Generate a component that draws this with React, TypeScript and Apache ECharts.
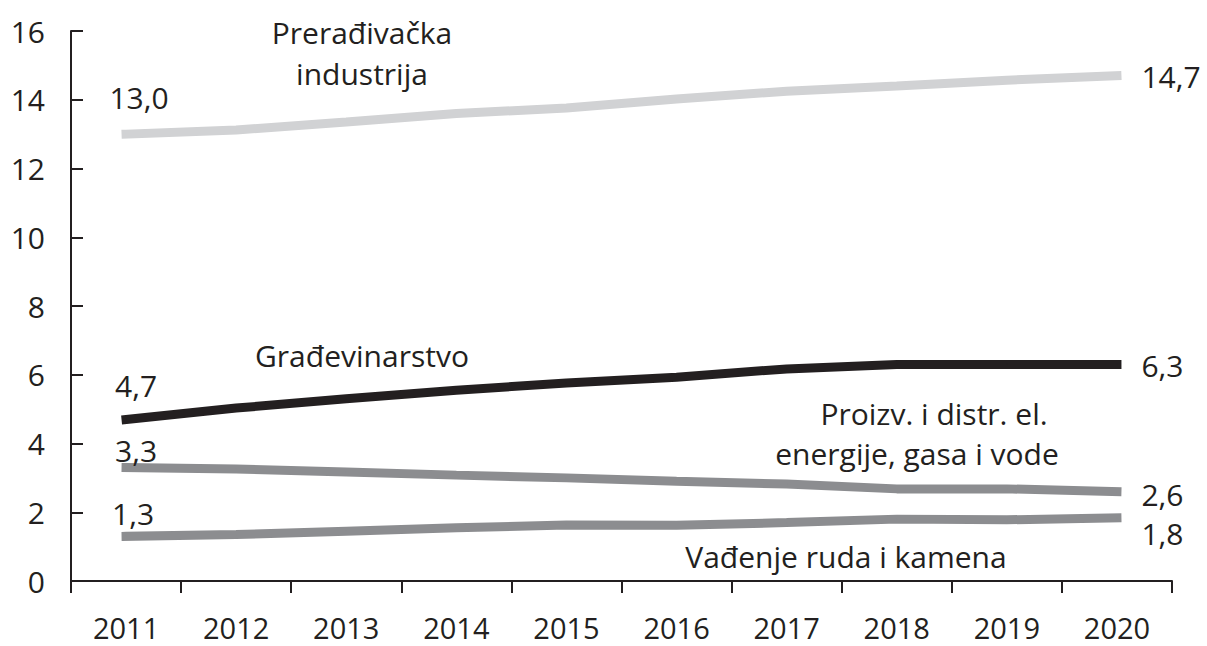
import React, { useEffect, useRef } from "react";
import * as echarts from "echarts";

const years = ["2011", "2012", "2013", "2014", "2015", "2016", "2017", "2018", "2019", "2020"];
const preradjivacka = [13.0, 13.12, 13.35, 13.6, 13.76, 14.02, 14.25, 14.4, 14.57, 14.7];
const gradjevinarstvo = [4.7, 5.03, 5.3, 5.55, 5.76, 5.93, 6.17, 6.3, 6.3, 6.3];
const energija = [3.3, 3.26, 3.17, 3.08, 3.0, 2.9, 2.82, 2.68, 2.68, 2.6];
const vadjenje = [1.3, 1.35, 1.45, 1.55, 1.63, 1.62, 1.7, 1.8, 1.78, 1.84];

const FONT = "'Open Sans'";
const TXT = "#231f20";

function fmt(v: number) {
  return v.toFixed(1).replace(".", ",");
}

function makeData(values: number[], first: [number, number], last: [number, number]) {
  const n = values.length;
  return values.map((v, i) => {
    if (i === 0) {
      return {
        value: v,
        label: { show: true, position: "inside", offset: first },
      };
    }
    if (i === n - 1) {
      return {
        value: v,
        label: { show: true, position: "right", distance: 24, offset: last },
      };
    }
    return v;
  });
}

function lineSeries(name: string, values: number[], color: string, first: [number, number], last: [number, number]) {
  return {
    name,
    type: "line",
    data: makeData(values, first, last),
    symbol: "circle",
    symbolSize: 1,
    showSymbol: true,
    itemStyle: { color },
    lineStyle: { color, width: 9, cap: "square" },
    label: {
      show: false,
      formatter: (p: any) => fmt(p.value),
      color: TXT,
      fontFamily: FONT,
      fontSize: 30,
    },
    emphasis: { disabled: true },
  };
}

export default function App() {
  const ref = useRef<HTMLDivElement>(null);
  useEffect(() => {
    if (!ref.current) return;
    const chart = echarts.init(ref.current, undefined, { renderer: "svg" });
    const textStyle = { fill: TXT, fontFamily: FONT, fontSize: 30, textAlign: "center", textVerticalAlign: "middle" };
    chart.setOption({
      animation: false,
      grid: { left: 71, right: 35, top: 31, bottom: 65 },
      xAxis: {
        type: "category",
        data: years,
        boundaryGap: true,
        axisLine: { lineStyle: { color: TXT, width: 2 } },
        axisTick: { show: true, length: 12, inside: false, lineStyle: { color: TXT, width: 2 } },
        axisLabel: { color: TXT, fontFamily: FONT, fontSize: 29, margin: 32, lineHeight: 29 },
      },
      yAxis: {
        type: "value",
        min: 0,
        max: 16,
        interval: 2,
        splitLine: { show: false },
        axisLine: { show: true, lineStyle: { color: TXT, width: 2 } },
        axisTick: { show: true, inside: true, length: 12, lineStyle: { color: TXT, width: 2 } },
        axisLabel: { color: TXT, fontFamily: FONT, fontSize: 30, margin: 26 },
      },
      series: [
        lineSeries("Prerađivačka industrija", preradjivacka, "#d1d2d4", [13, -37], [0, 1]),
        lineSeries("Građevinarstvo", gradjevinarstvo, "#231f20", [10, -34], [0, 1]),
        lineSeries("Proizv. i distr. el. energije, gasa i vode", energija, "#8c8d90", [10, -17], [0, 3]),
        lineSeries("Vađenje ruda i kamena", vadjenje, "#8c8d90", [7, -23], [0, 16]),
      ],
      graphic: [
        { type: "text", x: 362, y: 32, style: { ...textStyle, text: "Prerađivačka" } },
        { type: "text", x: 362, y: 73, style: { ...textStyle, text: "industrija" } },
        { type: "text", x: 362, y: 355, style: { ...textStyle, text: "Građevinarstvo" } },
        { type: "text", x: 934, y: 413, style: { ...textStyle, text: "Proizv. i distr. el." } },
        { type: "text", x: 917, y: 453, style: { ...textStyle, text: "energije, gasa i vode" } },
        { type: "text", x: 846, y: 556, style: { ...textStyle, text: "Vađenje ruda i kamena" } },
      ],
    });
    return () => chart.dispose();
  }, []);
  return <div ref={ref} style={{ width: 1207, height: 646, position: "absolute", left: 0, top: 0 }} />;
}
